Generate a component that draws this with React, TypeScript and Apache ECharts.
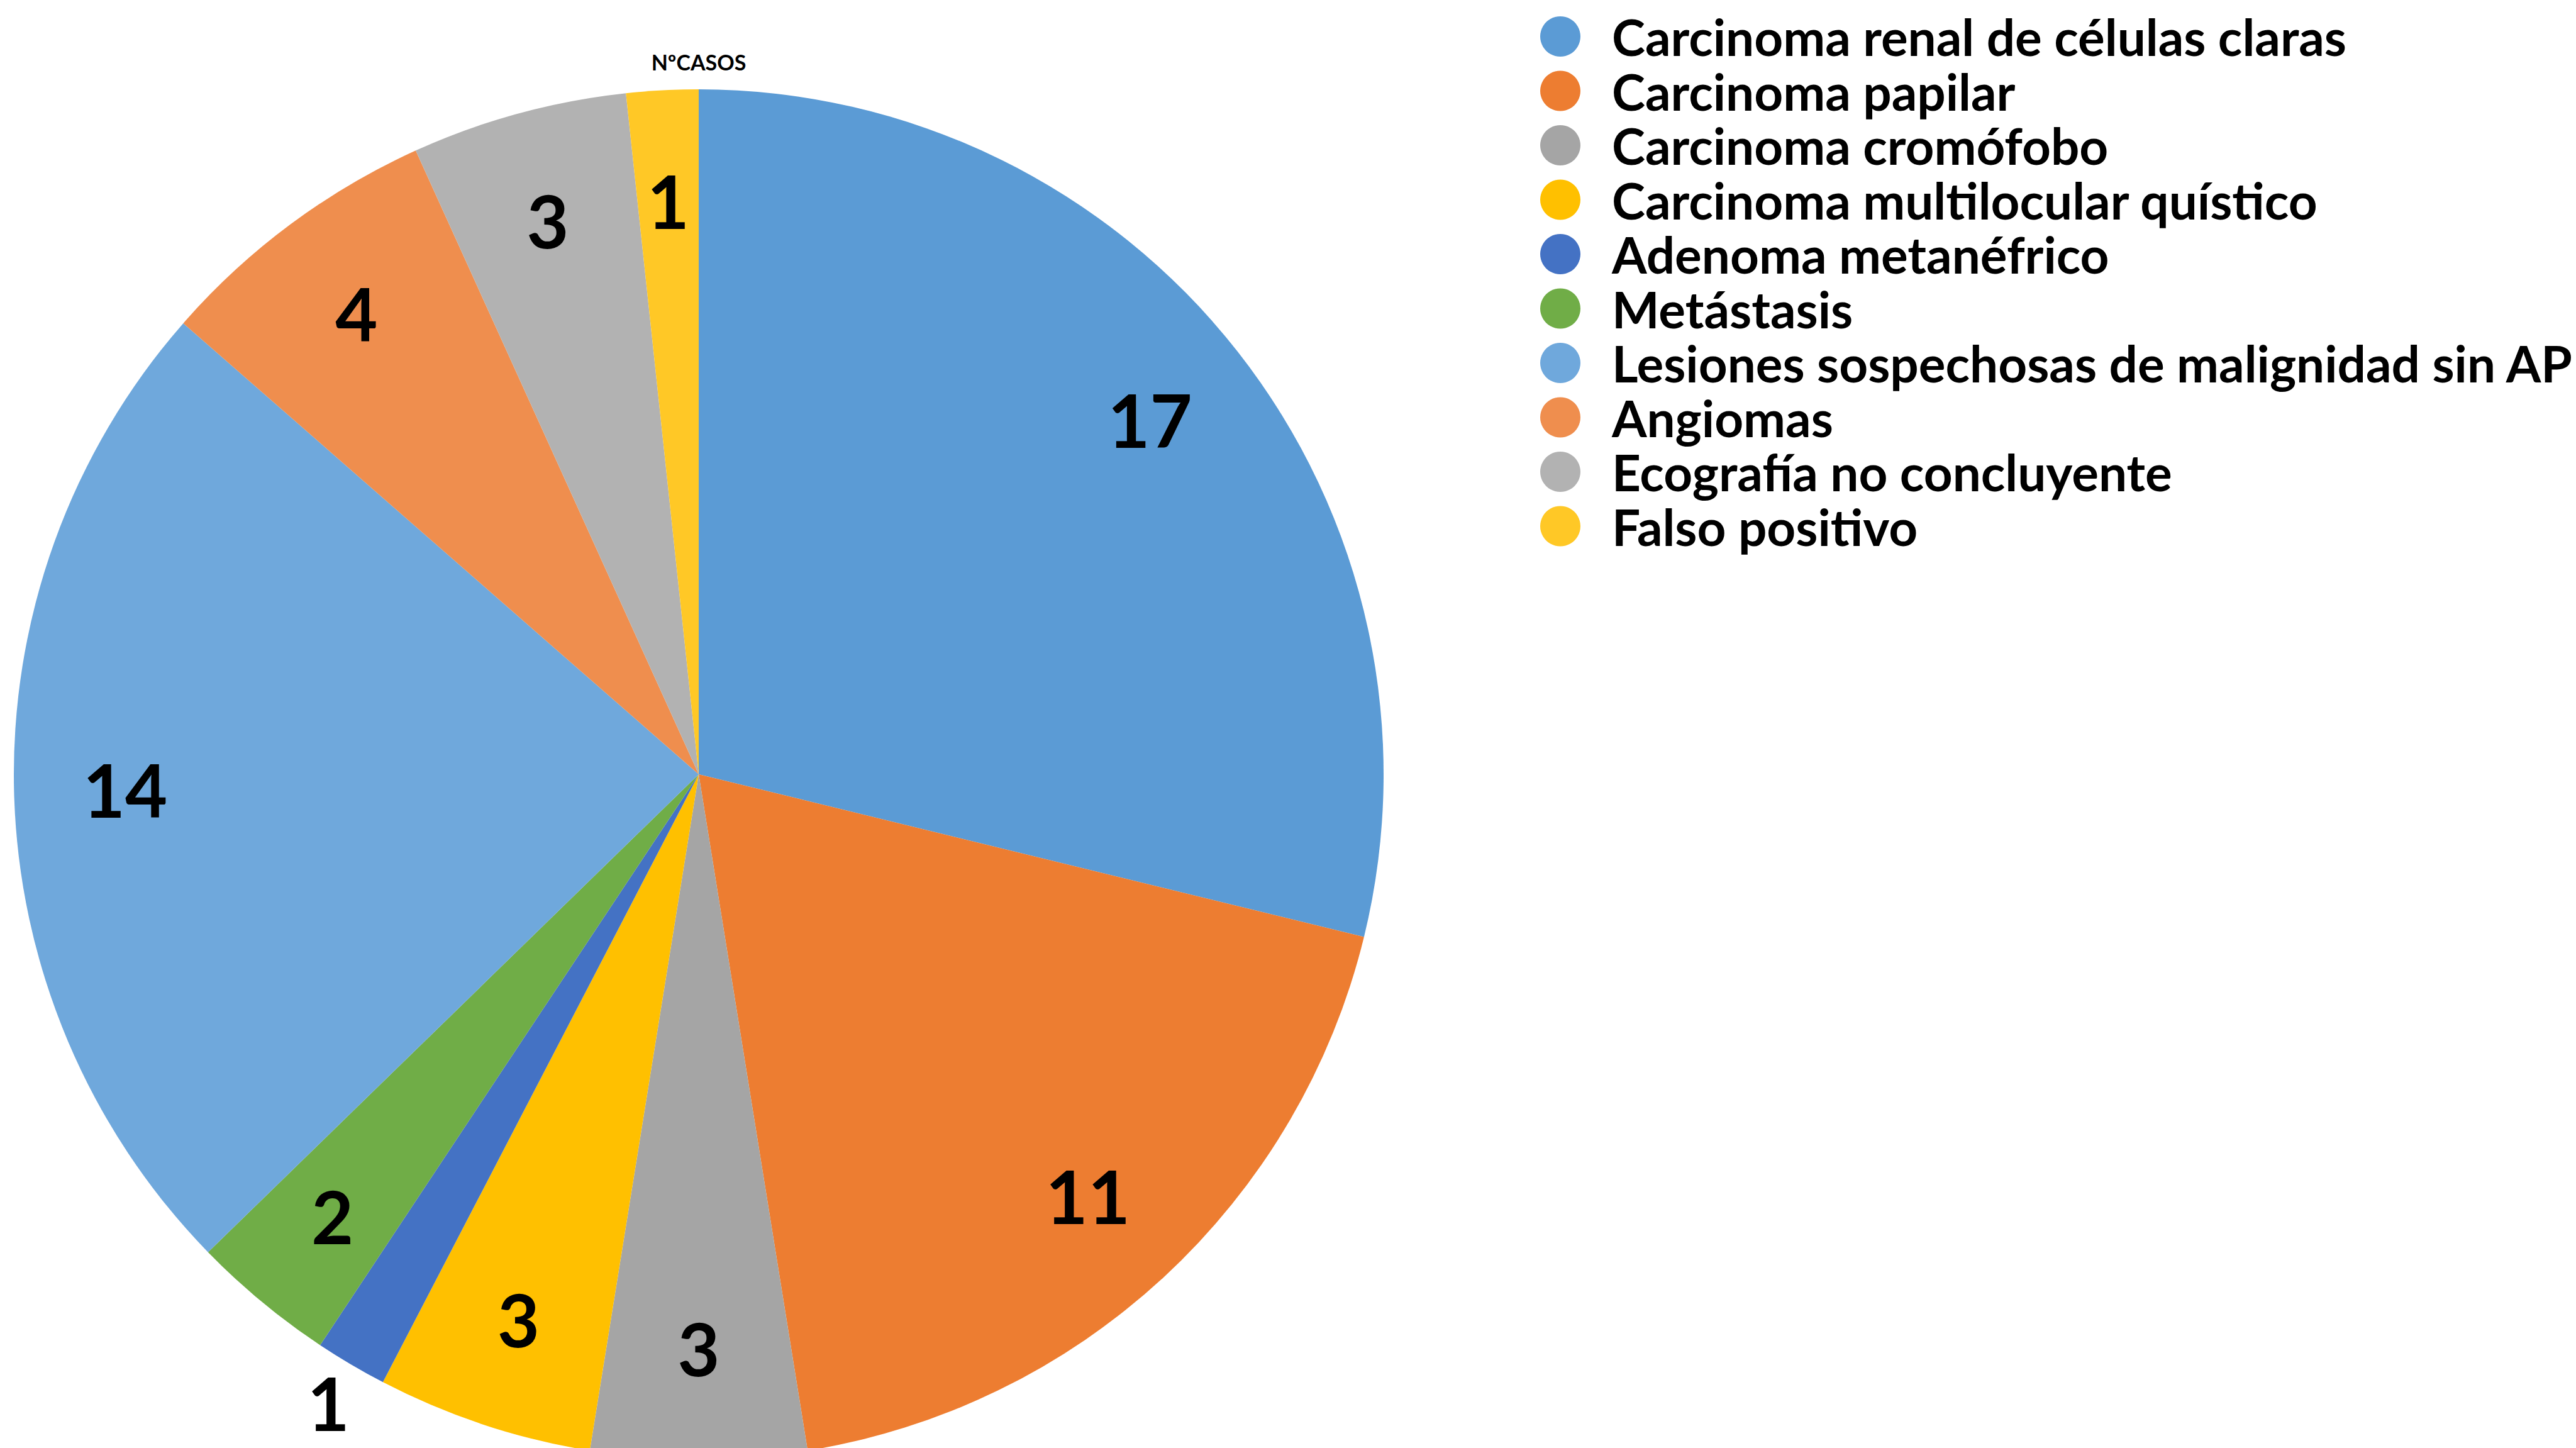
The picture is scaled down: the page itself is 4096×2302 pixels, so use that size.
import { useEffect, useRef } from "react";
import * as echarts from "echarts";

// Diagnósticos y número de casos
const categories = [
  "Carcinoma renal de células claras",
  "Carcinoma papilar",
  "Carcinoma cromófobo",
  "Carcinoma multilocular quístico",
  "Adenoma metanéfrico",
  "Metástasis",
  "Lesiones sospechosas de malignidad sin AP",
  "Angiomas",
  "Ecografía no concluyente",
  "Falso positivo",
];
const casos = [17, 11, 3, 3, 1, 2, 14, 4, 3, 1];
const colores = [
  "#5B9BD5",
  "#ED7D31",
  "#A5A5A5",
  "#FFC000",
  "#4472C4",
  "#70AD47",
  "#6FA8DC",
  "#EF8E4E",
  "#B2B2B2",
  "#FFC826",
];
// Sectores cuya etiqueta va fuera del círculo
const etiquetasExteriores = ["Adenoma metanéfrico"];

const W = 4096;
const H = 2302;
const CX = 1111;
const CY = 1231;
const R = 1089;
const FONT = "Lato, 'Open Sans', sans-serif";

export default function App() {
  const ref = useRef<HTMLDivElement>(null);

  useEffect(() => {
    if (!ref.current) return;
    const chart = echarts.init(ref.current, null, { renderer: "svg" });

    const labelText = {
      fontFamily: FONT,
      fontWeight: "bold",
      fontSize: 116,
      lineHeight: 100,
      color: "#000",
      textBorderWidth: 0,
    };
    const transparent = { color: "rgba(0,0,0,0)", borderWidth: 0 };

    const base = categories.map((name, i) => ({ name, value: casos[i] }));

    const innerLabels = base.map((d) => ({
      ...d,
      label: { show: !etiquetasExteriores.includes(d.name) },
    }));
    const outerLabels = base.map((d) => ({
      ...d,
      label: { show: etiquetasExteriores.includes(d.name) },
    }));

    const common = {
      type: "pie",
      center: [CX, CY],
      startAngle: 90,
      clockwise: true,
      avoidLabelOverlap: false,
      labelLine: { show: false },
      emphasis: { disabled: true },
    };

    chart.setOption({
      animation: false,
      color: colores,
      backgroundColor: "#fff",
      graphic: [
        {
          type: "text",
          x: CX,
          y: 98,
          style: {
            text: "NºCASOS",
            fontFamily: FONT,
            fontWeight: "bold",
            fontSize: 34,
            fill: "#000",
            textAlign: "center",
            textVerticalAlign: "middle",
          },
        },
      ],
      legend: {
        orient: "vertical",
        left: 2449,
        top: 18,
        padding: 0,
        icon: "circle",
        itemWidth: 154,
        itemHeight: 64,
        itemGap: 6.5,
        selectedMode: false,
        textStyle: {
          fontFamily: FONT,
          fontWeight: "bold",
          fontSize: 80,
          color: "#000",
        },
        data: categories,
      },
      series: [
        {
          ...common,
          name: "NºCASOS",
          radius: R,
          label: { show: false },
          itemStyle: { borderWidth: 0 },
          data: base,
        },
        {
          ...common,
          name: "etiquetas",
          radius: [R * 0.67, R],
          silent: true,
          itemStyle: transparent,
          label: { ...labelText, position: "inside", formatter: "{c}" },
          data: innerLabels,
        },
        {
          ...common,
          name: "etiquetas exteriores",
          radius: [R, R * 1.125],
          silent: true,
          itemStyle: transparent,
          label: { ...labelText, position: "inside", formatter: "{c}" },
          data: outerLabels,
        },
      ],
    });

    return () => chart.dispose();
  }, []);

  return (
    <div
      ref={ref}
      style={{ position: "fixed", left: 0, top: 0, width: W, height: H }}
    />
  );
}
